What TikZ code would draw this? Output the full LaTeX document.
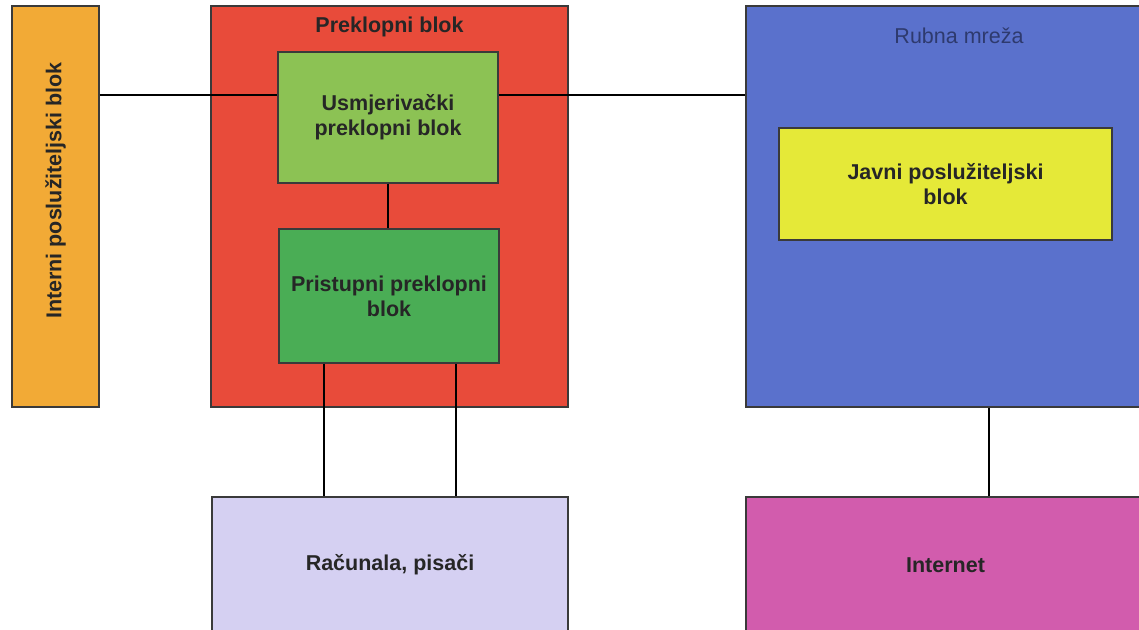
\documentclass[tikz,border=0pt]{standalone}
\usepackage{fontspec}
\setmainfont{Liberation Sans}
\usepackage{color}
\usepackage{tikz}
\definecolor{orange500}{HTML}{F2AA36}
\definecolor{red500}{HTML}{E84B3A}
\definecolor{green300}{HTML}{8CC254}
\definecolor{green600}{HTML}{4AAD55}
\definecolor{blue500}{HTML}{5A71CC}
\definecolor{yellow400}{HTML}{E5E938}
\definecolor{purple100}{HTML}{D5D0F2}
\definecolor{pink500}{HTML}{D25CAD}
\definecolor{gray800}{HTML}{3A3A3A}
\definecolor{navy700}{HTML}{2E3A6E}
\tikzstyle{blok}=[rectangle, draw=gray800, line width=1.2pt, inner sep=0pt, align=center, text=black!85, font=\fontsize{21.5}{25}\selectfont\bfseries]
\tikzstyle{natpis}=[anchor=center, text=black!85, font=\fontsize{21.5}{25}\selectfont\bfseries]
\tikzstyle{veza}=[draw=black, line width=1.2pt]

\begin{document}
\begin{tikzpicture}[x=1pt, y=-1pt]
	\clip (0,0) rectangle (1139,629);
	\fill[white] (0,0) rectangle (1139,629);
	\node[blok, fill=orange500, minimum width=87pt, minimum height=401pt, label={[natpis, rotate=90, xshift=16pt]center:Interni poslužiteljski blok}] (interni) at (55.5,206.5) {};
	\node[blok, fill=red500, minimum width=357pt, minimum height=401pt, label={[natpis, yshift=-22pt]north:Preklopni blok}] (preklopni) at (389.5,206.5) {};
	\node[blok, fill=blue500, minimum width=399pt, minimum height=401pt, label={[natpis, font=\fontsize{21.5}{25}\selectfont, text=navy700, xshift=13.5pt, yshift=-30.5pt]north:Rubna mreža}] (rubna) at (945.5,206.5) {};
	\node[blok, fill=green300, minimum width=220pt, minimum height=131pt] (usmjer) at (388,117.5) {Usmjerivački\\preklopni blok};
	\node[blok, fill=green600, minimum width=220pt, minimum height=134pt] (pristupni) at (389,296) {Pristupni preklopni\\blok};
	\node[blok, fill=yellow400, minimum width=333pt, minimum height=112pt] (javni) at (945.5,184) {Javni poslužiteljski\\blok};
	\node[blok, fill=purple100, minimum width=356pt, minimum height=136pt] (racunala) at (390,565) {Računala, pisači};
	\node[blok, fill=pink500, minimum width=399pt, minimum height=136pt] (internet) at (945.5,565) {Internet};
	% veze
	\coordinate (gornja) at (0,95);
	\path[veza] (interni.east |- gornja) -- (usmjer.west |- gornja);
	\path[veza] (usmjer.east |- gornja) -- (rubna.west |- gornja);
	\path[veza] (usmjer.south) -- (usmjer.south |- pristupni.north);
	\path[veza] ([xshift=-65pt]pristupni.south) -- ([xshift=-65pt]pristupni.south |- racunala.north);
	\path[veza] ([xshift=67pt]pristupni.south) -- ([xshift=67pt]pristupni.south |- racunala.north);
	\path[veza] ([xshift=43.5pt]rubna.south) -- ([xshift=43.5pt]rubna.south |- internet.north);
\end{tikzpicture}
\end{document}
